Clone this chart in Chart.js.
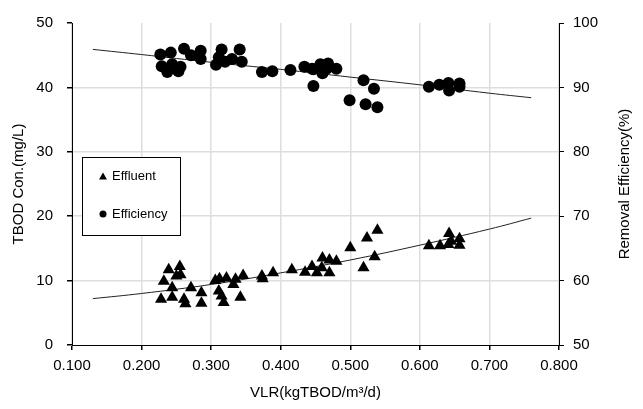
<!DOCTYPE html>
<html>
<head>
<meta charset="utf-8">
<script src="https://cdn.jsdelivr.net/npm/chart.js@4"></script>
<style>
html, body { margin: 0; padding: 0; background: #fff; }
#chart { display: block; }
</style>
</head>
<body>
<canvas id="chart" width="643" height="409"></canvas>
<script>
// VLR values and measured TBOD (effluent, left axis)
const effluentX = [0.228, 0.239, 0.232, 0.244, 0.244, 0.255, 0.256, 0.250, 0.261, 0.263,
    0.271, 0.286, 0.286, 0.306, 0.312, 0.322, 0.311, 0.315, 0.318, 0.335,
    0.332, 0.346, 0.342, 0.373, 0.374, 0.389, 0.416, 0.435, 0.445, 0.452,
    0.460, 0.459, 0.470, 0.470, 0.480, 0.500, 0.519, 0.524, 0.535, 0.539,
    0.613, 0.629, 0.642, 0.641, 0.645, 0.657, 0.657];
const effluentY = [7.1, 11.7, 9.9, 8.9, 7.4, 12.2, 10.9, 10.7, 7.1, 6.4,
    8.9, 8.1, 6.5, 10.0, 10.3, 10.4, 8.4, 7.6, 6.6, 10.2,
    9.4, 10.8, 7.4, 10.7, 10.3, 11.2, 11.7, 11.3, 12.2, 11.2,
    13.5, 12.0, 13.2, 11.2, 13.0, 15.1, 12.0, 16.6, 13.7, 17.8,
    15.4, 15.4, 17.3, 15.6, 16.1, 16.5, 15.5];

// removal efficiency (right axis)
const efficiencyX = [0.227, 0.242, 0.261, 0.271, 0.285, 0.285, 0.229, 0.237, 0.244, 0.253,
    0.256, 0.307, 0.315, 0.311, 0.320, 0.330, 0.341, 0.344, 0.373, 0.388,
    0.414, 0.434, 0.447, 0.457, 0.460, 0.468, 0.480, 0.445, 0.466, 0.447,
    0.499, 0.519, 0.534, 0.522, 0.539, 0.613, 0.628, 0.641, 0.642, 0.657, 0.657];
const efficiencyY = [95.1, 95.4, 96.0, 95.0, 95.7, 94.4, 93.3, 92.4, 93.6, 92.5,
    93.2, 93.5, 95.9, 94.7, 94.0, 94.4, 95.9, 94.0, 92.4, 92.5,
    92.7, 93.2, 92.8, 93.6, 92.2, 93.7, 92.9, 92.9, 92.9, 90.2,
    88.0, 91.1, 89.8, 87.4, 86.9, 90.1, 90.4, 90.7, 89.5, 90.6, 90.1];

// fitted trend lines
const trendX = [0.13, 0.2, 0.3, 0.4, 0.5, 0.6, 0.7, 0.76];
const effluentTrendY = [7.2, 8.0, 9.4, 11.2, 13.2, 15.5, 18.0, 19.7];
const efficiencyTrendY = [95.9, 95.1, 93.9, 92.8, 91.6, 90.4, 89.1, 88.4];

const xTicks = [0.1, 0.2, 0.3, 0.4, 0.5, 0.6, 0.7, 0.8];
const leftTicks = [0, 10, 20, 30, 40, 50];
const rightTicks = [50, 60, 70, 80, 90, 100];

const toPoints = (xs, ys) => xs.map((x, i) => ({ x: x, y: ys[i] }));

const FONT = "'Liberation Sans', Arial, sans-serif";

// boxed legend inside the plot + right axis title (reads bottom to top)
const boxLegend = {
    id: "boxLegend",
    afterDraw(chart) {
        const ctx = chart.ctx;
        ctx.save();
        ctx.fillStyle = "#fff";
        ctx.fillRect(82.5, 157.5, 98, 78);
        ctx.strokeStyle = "#000";
        ctx.lineWidth = 1;
        ctx.strokeRect(82.5, 157.5, 98, 78);

        ctx.fillStyle = "#000";
        // triangle
        ctx.beginPath();
        ctx.moveTo(103, 172.5);
        ctx.lineTo(107, 179.5);
        ctx.lineTo(99, 179.5);
        ctx.closePath();
        ctx.fill();
        // circle
        ctx.beginPath();
        ctx.arc(103, 214, 3.5, 0, Math.PI * 2);
        ctx.fill();

        ctx.font = "13px " + FONT;
        ctx.textBaseline = "middle";
        ctx.textAlign = "left";
        ctx.fillText("Effluent", 112, 176);
        ctx.fillText("Efficiency", 112, 214);

        const area = chart.chartArea;
        ctx.font = "15px " + FONT;
        ctx.textAlign = "center";
        ctx.translate(625, (area.top + area.bottom) / 2);
        ctx.rotate(-Math.PI / 2);
        ctx.fillText("Removal Efficiency(%)", 0, 0);
        ctx.restore();
    }
};

new Chart(document.getElementById("chart"), {
    type: "scatter",
    data: {
        datasets: [
            {
                label: "Effluent",
                data: toPoints(effluentX, effluentY),
                yAxisID: "y",
                pointStyle: "triangle",
                pointRadius: 7,
                backgroundColor: "#000",
                borderColor: "#000",
                borderWidth: 0
            },
            {
                label: "Efficiency",
                data: toPoints(efficiencyX, efficiencyY),
                yAxisID: "y1",
                pointStyle: "circle",
                pointRadius: 6,
                backgroundColor: "#000",
                borderColor: "#000",
                borderWidth: 0
            },
            {
                label: "Effluent trend",
                data: toPoints(trendX, effluentTrendY),
                yAxisID: "y",
                showLine: true,
                pointRadius: 0,
                borderColor: "#222",
                borderWidth: 1,
                tension: 0.4
            },
            {
                label: "Efficiency trend",
                data: toPoints(trendX, efficiencyTrendY),
                yAxisID: "y1",
                showLine: true,
                pointRadius: 0,
                borderColor: "#222",
                borderWidth: 1,
                tension: 0.4
            }
        ]
    },
    options: {
        responsive: false,
        devicePixelRatio: 1,
        animation: false,
        layout: { padding: { top: 17, left: 0, right: 0, bottom: 0 } },
        plugins: {
            legend: { display: false },
            tooltip: { enabled: false }
        },
        scales: {
            x: {
                type: "linear",
                min: 0.1,
                max: 0.8,
                afterBuildTicks: s => { s.ticks = xTicks.map(v => ({ value: v })); },
                afterFit: s => { s.height = 64; },
                ticks: {
                    color: "#000",
                    font: { family: FONT, size: 15 },
                    padding: 7,
                    maxRotation: 0,
                    callback: v => v.toFixed(3)
                },
                grid: { color: "#dedede", lineWidth: 1.5, tickLength: 5, tickColor: "#000" },
                border: { color: "#000", width: 1 },
                title: {
                    display: true,
                    text: "VLR(kgTBOD/m³/d)",
                    color: "#000",
                    font: { family: FONT, size: 15 },
                    padding: { top: 0, bottom: 7 }
                }
            },
            y: {
                position: "left",
                min: 0,
                max: 50,
                afterBuildTicks: s => { s.ticks = leftTicks.map(v => ({ value: v })); },
                afterFit: s => { s.width = 72; },
                ticks: {
                    color: "#000",
                    font: { family: FONT, size: 15 },
                    padding: 14
                },
                grid: {
                    color: c => (c.tick && (c.tick.value === 50 || c.tick.value === 0)) ? "rgba(0,0,0,0)" : "#dedede",
                    lineWidth: 1.5,
                    tickLength: 5,
                    tickColor: "#000"
                },
                border: { color: "#000", width: 1 },
                title: {
                    display: true,
                    text: "TBOD Con.(mg/L)",
                    color: "#000",
                    font: { family: FONT, size: 15 },
                    padding: { top: 10, bottom: 0 }
                }
            },
            y1: {
                position: "right",
                min: 50,
                max: 100,
                afterBuildTicks: s => { s.ticks = rightTicks.map(v => ({ value: v })); },
                afterFit: s => { s.width = 84; },
                ticks: {
                    color: "#000",
                    font: { family: FONT, size: 15 },
                    padding: 9
                },
                grid: { drawOnChartArea: false, tickLength: 5, tickColor: "#000" },
                border: { color: "#000", width: 1 },
                title: { display: false }
            }
        }
    },
    plugins: [boxLegend]
});
</script>
</body>
</html>
